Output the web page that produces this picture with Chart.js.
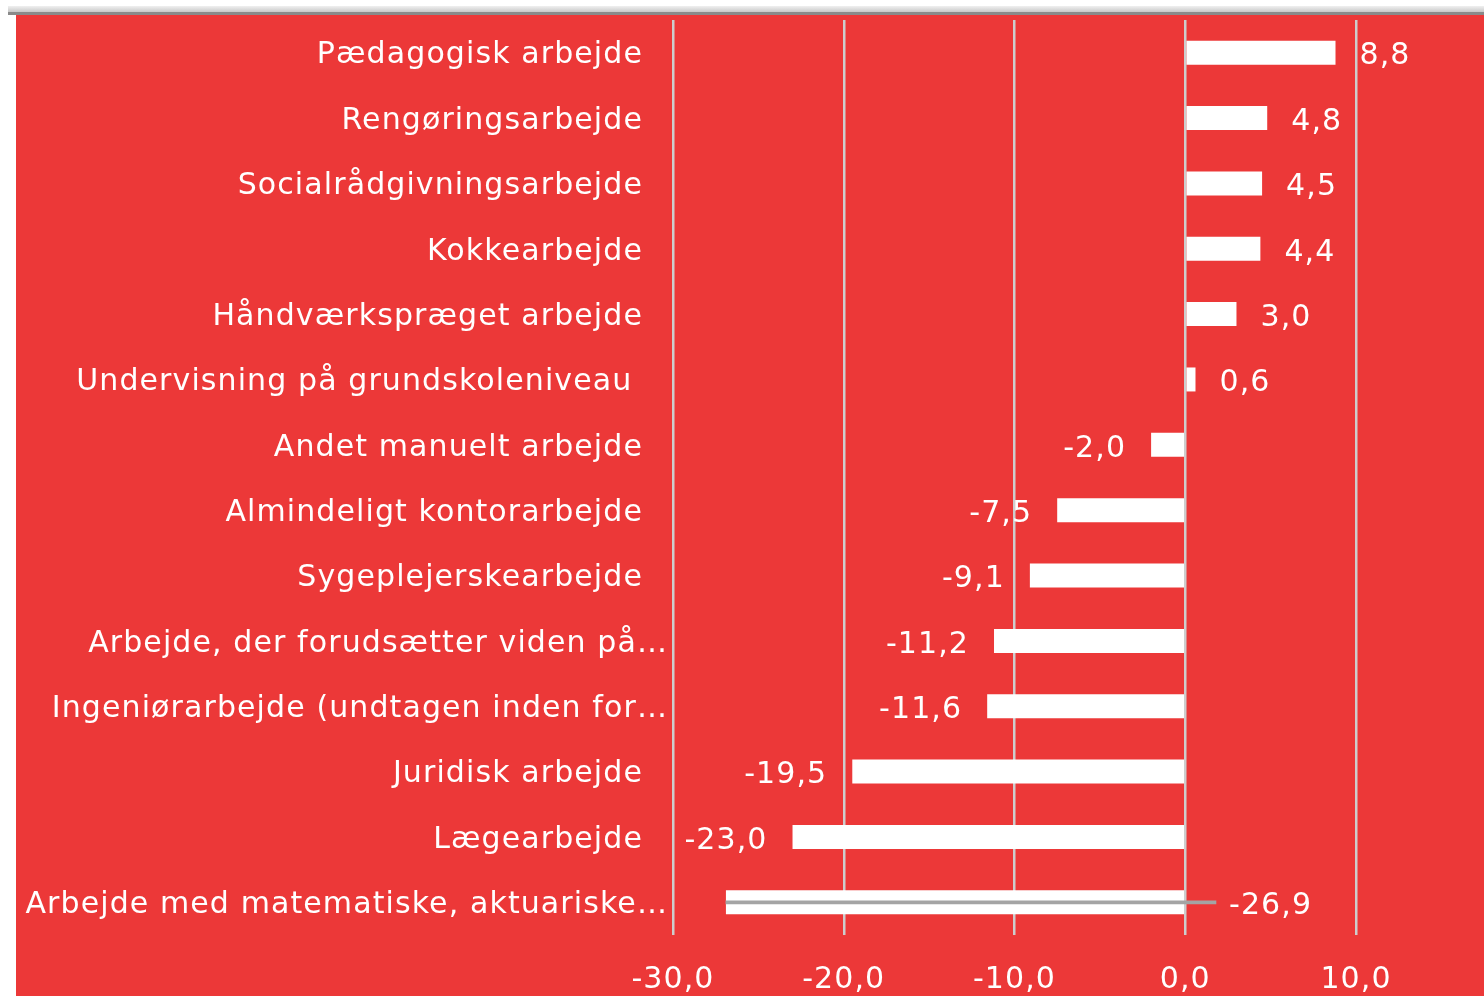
<!DOCTYPE html>
<html><head><meta charset="utf-8">
<script src="https://cdn.jsdelivr.net/npm/chart.js@4/dist/chart.umd.min.js"></script>
<style>
html,body{margin:0;padding:0;background:#fff;width:1484px;height:996px;overflow:hidden}
#topline1{position:absolute;left:8px;top:6px;width:1476px;height:6px;background:linear-gradient(#f0f0f0,#c8c8c8)}
#topline2{position:absolute;left:8px;top:12px;width:1476px;height:3px;background:#8a8a8a}
#wrap{position:absolute;left:16px;top:15px;width:1468px;height:981px;background:#EC3838}
</style></head>
<body>
<div id="topline1"></div><div id="topline2"></div>
<div id="wrap"><canvas id="c" width="1468" height="981"></canvas></div>
<script>
const categories = [
  "Pædagogisk arbejde",
  "Rengøringsarbejde",
  "Socialrådgivningsarbejde",
  "Kokkearbejde",
  "Håndværkspræget arbejde",
  "Undervisning på grundskoleniveau ",
  "Andet manuelt arbejde",
  "Almindeligt kontorarbejde",
  "Sygeplejerskearbejde",
  "Arbejde, der forudsætter viden på…",
  "Ingeniørarbejde (undtagen inden for…",
  "Juridisk arbejde",
  "Lægearbejde",
  "Arbejde med matematiske, aktuariske…"
];
const values = [8.8, 4.8, 4.5, 4.4, 3.0, 0.6, -2.0, -7.5, -9.1, -11.2, -11.6, -19.5, -23.0, -26.9];
const overlayLine = [null, null, null, null, null, null, null, null, null, null, null, null, null, [-26.9, 1.8]];
const xTicks = [-30, -20, -10, 0, 10];

const FONT = '"DejaVu Sans", Verdana, sans-serif';
const FS = 30;
const LS = '1.1px';
const fmt = v => v.toFixed(1).replace('.', ',');

const spacingPlugin = {
  id: 'spacing',
  beforeDraw(chart) { chart.ctx.letterSpacing = LS; }
};

const labelPlugin = {
  id: 'labels',
  afterDatasetsDraw(chart) {
    const ctx = chart.ctx;
    const meta = chart.getDatasetMeta(0);
    const xs = chart.scales.x;
    const ys = chart.scales.y;
    ctx.save();
    ctx.letterSpacing = LS;
    ctx.font = FS + 'px ' + FONT;
    ctx.fillStyle = '#fff';
    ctx.textBaseline = 'middle';
    categories.forEach((c, i) => {
      const y = ys.getPixelForValue(i) + 3;
      const trunc = c.endsWith('…');
      ctx.textAlign = 'right';
      ctx.fillText(c, chart.chartArea.left - (trunc ? 5 : 30), y);
    });
    meta.data.forEach((bar, i) => {
      const v = values[i];
      const y = bar.y + 4;
      if (overlayLine[i]) {
        ctx.textAlign = 'left';
        ctx.fillText(fmt(v), xs.getPixelForValue(overlayLine[i][1]) + 13, y);
      } else if (v >= 0) {
        ctx.textAlign = 'left';
        ctx.fillText(fmt(v), bar.x + 24, y);
      } else {
        ctx.textAlign = 'right';
        ctx.fillText(fmt(v), bar.x - 25, y);
      }
    });
    ctx.restore();
  }
};

new Chart(document.getElementById('c'), {
  type: 'bar',
  data: {
    labels: categories,
    datasets: [
      { data: values, backgroundColor: '#ffffff', categoryPercentage: 1, barPercentage: 0.367, grouped: false, order: 2 },
      { data: overlayLine, backgroundColor: '#a4a4a4', barThickness: 3, grouped: false, order: 1 }
    ]
  },
  options: {
    indexAxis: 'y',
    responsive: false,
    animation: false,
    devicePixelRatio: 1,
    layout: { padding: { top: 5, right: 128, left: 0, bottom: 0 } },
    plugins: { legend: { display: false }, tooltip: { enabled: false } },
    scales: {
      x: {
        min: -30, max: 10,
        afterBuildTicks: s => { s.ticks = xTicks.map(v => ({ value: v })); },
        afterFit: s => { s.height = 61; },
        grid: { color: '#cdcdcd', lineWidth: 2.5, drawTicks: false },
        border: { display: false },
        ticks: { color: '#fff', font: { family: FONT, size: FS }, padding: 27, callback: v => fmt(v), maxRotation: 0, autoSkip: false }
      },
      y: {
        afterFit: s => { s.width = 657; },
        grid: { display: false, drawTicks: false },
        border: { display: false },
        ticks: { display: false }
      }
    }
  },
  plugins: [spacingPlugin, labelPlugin]
});
</script>
</body></html>
